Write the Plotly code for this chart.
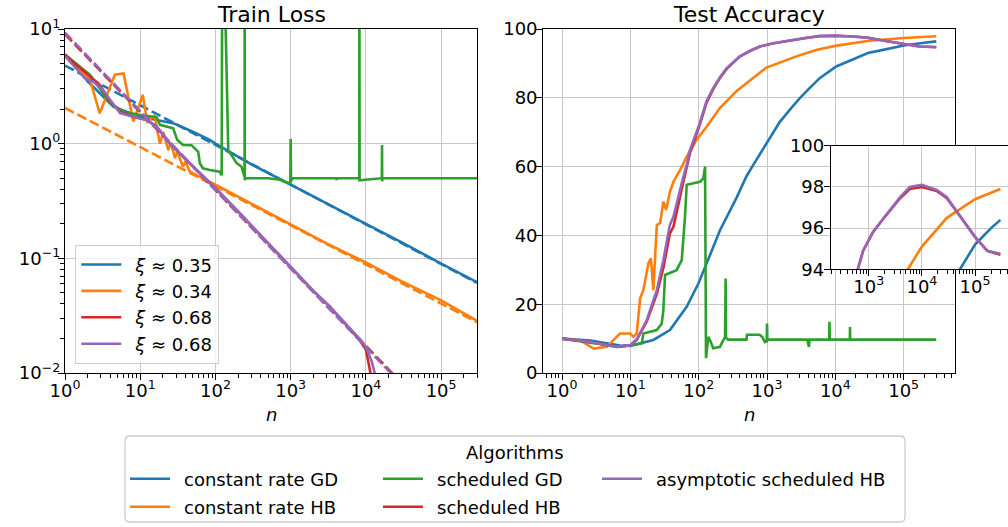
import plotly.graph_objects as go

# ---------------- data ----------------
# Train loss, solid curves
n_loss_const_gd = [1, 1.5, 2, 3.2, 4.4, 6.6, 10, 16.5, 27.4, 50, 84, 100, 300, 1000, 3000, 1e4, 3e4, 1e5, 3e5]
loss_const_gd = [5.9, 4.5, 3.5, 2.57, 2.1, 1.9, 1.72, 1.61, 1.51, 1.27, 1.08, 1.0, 0.66, 0.44, 0.30, 0.2, 0.138, 0.09, 0.062]

n_loss_const_hb = [1, 1.5, 2.15, 2.9, 4.6, 6.0, 8.1, 10.8, 12.4, 15.5, 18.3, 20.2, 23.6, 25.5, 28.9, 31, 37, 40, 45,
                   50.5, 72, 100, 300, 1000, 3000, 1e4, 3e4, 1e5, 3e5]
loss_const_hb = [6.0, 4.6, 3.6, 1.84, 4.0, 4.1, 1.56, 2.66, 1.56, 1.75, 1.0, 1.27, 0.88, 1.02, 0.75, 0.85, 0.63, 0.7, 0.58,
                 0.55, 0.49, 0.44, 0.30, 0.197, 0.135, 0.092, 0.063, 0.043, 0.0285]

n_loss_sched_gd = [1, 2.15, 4.0, 5.95, 10, 16.5, 18.3, 27.4, 31, 37, 48, 53, 59, 62, 68, 84, 114, 121, 123, 132, 148, 190,
                   222, 240, 244, 245, 246, 250, 500, 720, 915, 990, 1000, 1012, 1050, 4000, 4096, 4200, 8150, 8192, 8250,
                   16300, 16384, 16450, 16600, 3e5]
loss_sched_gd = [6.0, 3.98, 2.25, 1.9, 1.78, 1.70, 1.46, 1.36, 1.08, 0.975, 0.97, 0.91, 0.85, 0.675, 0.61, 0.59, 0.57, 0.53,
                 30, 30, 0.88, 0.68, 0.63, 0.53, 0.51, 30, 0.48, 0.50, 0.50, 0.485, 0.455, 0.455, 1.1, 0.47, 0.50, 0.50,
                 0.485, 0.50, 0.50, 30, 0.48, 0.50, 0.975, 0.47, 0.50, 0.50]

n_loss_sched_hb = [1, 1.17, 1.94, 2.9, 4.0, 5.4, 8.1, 12.2, 16.5, 24.8, 41, 72, 100, 200, 1000, 2000, 3300, 6000, 8200,
                   1e4, 1.15e4, 1.3e4]
loss_sched_hb = [6.0, 5.4, 4.1, 3.25, 2.32, 1.9, 1.72, 1.61, 1.41, 1.0, 0.72, 0.50, 0.41, 0.256, 0.085, 0.052, 0.038,
                 0.0245, 0.0195, 0.016, 0.01, 0.005]

n_loss_asym_hb = [1, 1.85, 2.38, 3.2, 4.0, 5.4, 8.1, 12.2, 16.5, 24.8, 41, 72, 100, 200, 1000, 2000, 3300, 6000, 8200,
                  1e4, 1.2e4, 1.31e4, 1.45e4]
loss_asym_hb = [5.8, 3.7, 3.47, 2.94, 2.4, 1.85, 1.72, 1.61, 1.41, 1.0, 0.72, 0.50, 0.41, 0.256, 0.084, 0.052, 0.038,
                0.025, 0.02, 0.017, 0.0125, 0.01, 0.007]

# Train loss, dashed power-law fits (end points)
n_fit_const_gd = [1, 3e5]
fit_const_gd = [4.8, 0.061]
n_fit_const_hb = [1, 3e5]
fit_const_hb = [2.05, 0.0277]
n_fit_sched_hb = [1, 2.4e4]
fit_sched_hb = [9.0, 0.0095]
n_fit_asym_hb = [1, 2.2e4]
fit_asym_hb = [9.3, 0.0098]

# Test accuracy
n_acc_const_gd = [1, 2.6, 7.1, 10, 21.7, 38, 67, 99, 131, 205, 359, 501, 630, 980, 1540, 2150, 3020, 4200, 5900, 1.03e4,
                  1.8e4, 3e4, 5.2e4, 1e5, 2e5, 3e5]
acc_const_gd = [10.0, 9.4, 8.0, 7.9, 9.6, 12.5, 19.3, 26, 31.9, 41.5, 51, 57.2, 60.5, 66.8, 73, 76.5, 79.9, 82.8, 85.7,
                89.1, 91.2, 93.0, 94.0, 95.2, 96.0, 96.4]

n_acc_const_hb = [1, 1.85, 2.9, 4.5, 6.3, 7.1, 9.9, 11.1, 12.4, 13.9, 15.5, 18.4, 20, 21.7, 24.4, 27.3, 30.4, 33.3, 38,
                  42.7, 53.3, 66.8, 93, 130, 204, 360, 980, 3020, 5430, 1e4, 2.95e4, 1e5, 3e5]
acc_const_hb = [10, 9.5, 7.1, 7.6, 10.5, 11.5, 11.5, 10.5, 11.5, 21.7, 24.1, 31.9, 33.3, 24.1, 43, 43.6, 49.8, 47.4, 52.7,
                55.6, 59, 62.9, 67.8, 71.5, 77, 82, 88.8, 92.4, 94.0, 95.1, 96.5, 97.4, 97.9]

n_acc_sched_gd = [1, 7.1, 14.7, 15.5, 24.4, 28.8, 30.4, 32.2, 47.5, 56.5, 63, 66.8, 105, 117, 124, 128, 138, 150, 163,
                  205, 228, 243, 248, 251, 270, 500, 510, 780, 850, 930, 990, 1000, 1012, 3900, 4000, 4096, 4200, 8100,
                  8192, 8300, 16300, 16384, 16500, 3e5]
acc_sched_gd = [10, 7.6, 8.6, 11.5, 12.5, 14.4, 18.3, 28.5, 29.9, 32.8, 45.4, 54.7, 55.6, 56.6, 60, 4.3, 10.5, 9.1, 7.2,
                7.6, 9.5, 10.3, 27.5, 10.3, 9.7, 9.7, 11.1, 11.1, 10.5, 9.0, 9.2, 14.4, 9.7, 9.7, 7.6, 7.6, 9.7, 9.7,
                14.9, 9.7, 9.7, 13.4, 9.7, 9.7]

n_acc_sched_hb = [1, 2.6, 6.3, 10, 12.4, 17.4, 24.4, 30.4, 37.8, 42.7, 59.6, 66.8, 74.7, 105, 130, 163, 205, 257, 398, 560,
                  785, 1200, 1930, 3900, 5900, 1e4, 1.9e4, 2.95e4, 5.5e4, 9.8e4, 1.7e5, 3e5]
acc_sched_hb = [10, 9.0, 7.6, 8.1, 9.6, 15.0, 23.0, 30.5, 40.5, 42.5, 55.5, 59.5, 64, 72.5, 78.5, 82.5, 85.8, 88.4, 92,
                93.6, 94.9, 95.8, 96.5, 97.45, 97.9, 98.0, 97.8, 97.45, 96.5, 95.6, 94.9, 94.7]

n_acc_asym_hb = [1, 2.6, 6.3, 10, 12.4, 17.4, 24.4, 30.4, 37.8, 42.7, 59.6, 66.8, 74.7, 105, 130, 163, 205, 257, 398, 560,
                 785, 1200, 1930, 3900, 5900, 1e4, 1.9e4, 2.95e4, 5.5e4, 9.8e4, 1.7e5, 3e5]
acc_asym_hb = [10, 9.0, 7.6, 8.1, 9.8, 15.4, 24.1, 32.8, 43, 45.4, 57, 60.5, 64.8, 73, 79, 82.8, 86, 88.6, 92, 93.6,
               94.9, 95.8, 96.5, 97.5, 98.0, 98.1, 97.85, 97.5, 96.5, 95.6, 94.9, 94.75]

# Tick labels
loss_x_tickvals = [1, 10, 100, 1e3, 1e4, 1e5]
loss_x_ticktext = ["10<sup>0</sup>", "10<sup>1</sup>", "10<sup>2</sup>", "10<sup>3</sup>", "10<sup>4</sup>", "10<sup>5</sup>"]
loss_y_tickvals = [0.01, 0.1, 1, 10]
loss_y_ticktext = ["10<sup>−2</sup>", "10<sup>−1</sup>", "10<sup>0</sup>", "10<sup>1</sup>"]
acc_y_tickvals = [0, 20, 40, 60, 80, 100]
inset_x_tickvals = [1e3, 1e4, 1e5]
inset_x_ticktext = ["10<sup>3</sup>", "10<sup>4</sup>", "10<sup>5</sup>"]
inset_y_tickvals = [94, 96, 98, 100]

xi_labels = ["<i>ξ</i> ≈ 0.35", "<i>ξ</i> ≈ 0.34", "<i>ξ</i> ≈ 0.68", "<i>ξ</i> ≈ 0.68"]
algo_labels = ["constant rate GD", "constant rate HB", "scheduled GD", "scheduled HB", "asymptotic scheduled HB"]

# ---------------- layout helpers ----------------
W, H = 1008, 527
def X(px):
    return px / W
def Y(py):
    return 1 - py / H

FONT = "DejaVu Sans"
BLUE, ORANGE, GREEN, RED, PURPLE = "#1f77b4", "#ff7f0e", "#2ca02c", "#d62728", "#9467bd"
LW = 2.6
DASH = "10px,4px"
GRID = "#c8c8c8"
GAP = "\u2002"  # small gap between legend handle and label

fig = go.Figure()

def line(x, y, color, xa, ya, dash=None, name=None, legend=None, show=False):
    kw = dict(x=x, y=y, mode="lines", line=dict(color=color, width=LW, dash=dash),
              xaxis=xa, yaxis=ya, showlegend=show, hoverinfo="skip")
    if name is not None:
        kw["name"] = GAP + name
    if legend is not None:
        kw["legend"] = legend
    fig.add_trace(go.Scatter(**kw))

# Train loss
line(n_loss_const_gd, loss_const_gd, BLUE, "x", "y", name=xi_labels[0], legend="legend2", show=True)
line(n_fit_const_gd, fit_const_gd, BLUE, "x", "y", dash=DASH)
line(n_loss_const_hb, loss_const_hb, ORANGE, "x", "y", name=xi_labels[1], legend="legend2", show=True)
line(n_fit_const_hb, fit_const_hb, ORANGE, "x", "y", dash=DASH)
line(n_loss_sched_gd, loss_sched_gd, GREEN, "x", "y")
line(n_loss_sched_hb, loss_sched_hb, RED, "x", "y", name=xi_labels[2], legend="legend2", show=True)
line(n_fit_sched_hb, fit_sched_hb, RED, "x", "y", dash=DASH)
line(n_loss_asym_hb, loss_asym_hb, PURPLE, "x", "y", name=xi_labels[3], legend="legend2", show=True)
line(n_fit_asym_hb, fit_asym_hb, PURPLE, "x", "y", dash=DASH)

# Test accuracy (main)
line(n_acc_const_gd, acc_const_gd, BLUE, "x2", "y2", name=algo_labels[0], legend="legend", show=True)
line(n_acc_const_hb, acc_const_hb, ORANGE, "x2", "y2", name=algo_labels[1], legend="legend5", show=True)
line(n_acc_sched_gd, acc_sched_gd, GREEN, "x2", "y2", name=algo_labels[2], legend="legend3", show=True)
line(n_acc_sched_hb, acc_sched_hb, RED, "x2", "y2", name=algo_labels[3], legend="legend6", show=True)
line(n_acc_asym_hb, acc_asym_hb, PURPLE, "x2", "y2", name=algo_labels[4], legend="legend4", show=True)

# Test accuracy (inset)
line(n_acc_const_gd, acc_const_gd, BLUE, "x3", "y3")
line(n_acc_const_hb, acc_const_hb, ORANGE, "x3", "y3")
line(n_acc_sched_gd, acc_sched_gd, GREEN, "x3", "y3")
line(n_acc_sched_hb, acc_sched_hb, RED, "x3", "y3")
line(n_acc_asym_hb, acc_asym_hb, PURPLE, "x3", "y3")

tickfont = dict(family=FONT, size=18, color="black")
minor_log = dict(ticks="outside", ticklen=3.5, tickwidth=1, tickcolor="black", showgrid=False, dtick="D1")

def ax(**kw):
    d = dict(showline=True, linecolor="black", linewidth=1.3, ticks="outside", ticklen=6, tickwidth=1.2,
             tickcolor="black", showgrid=True, gridcolor=GRID, gridwidth=1.3, zeroline=False,
             tickfont=tickfont, fixedrange=True)
    d.update(kw)
    return d

def legend_single(px, py):
    return dict(x=X(px), y=Y(py), xanchor="left", yanchor="middle", bgcolor="rgba(0,0,0,0)", borderwidth=0,
                font=dict(family=FONT, size=18, color="black"), itemwidth=40, orientation="v")

box_l, box_r, box_t, box_b, rad = 125, 905, 436, 522, 5
def P(px, py):
    return f"{X(px):.5f},{Y(py):.5f}"

XSO, YSO = -5, -6  # tick label standoffs

fig.update_layout(
    width=W, height=H,
    margin=dict(l=0, r=0, t=0, b=0),
    template="none",
    paper_bgcolor="white", plot_bgcolor="white",
    font=dict(family=FONT, size=18, color="black"),
    xaxis=ax(domain=[X(65), X(477)], type="log", range=[0, 5.477], anchor="y", mirror=True, ticklabelstandoff=XSO,
             tickmode="array", tickvals=loss_x_tickvals, ticktext=loss_x_ticktext, minor=minor_log),
    yaxis=ax(domain=[Y(373), Y(29)], type="log", range=[-2, 1], anchor="x", mirror=True, ticklabelstandoff=YSO,
             tickmode="array", tickvals=loss_y_tickvals, ticktext=loss_y_ticktext, minor=minor_log),
    xaxis2=ax(domain=[X(543.3), X(955)], type="log", range=[-0.274, 5.751], anchor="y2", mirror=True,
              ticklabelstandoff=XSO,
              tickmode="array", tickvals=loss_x_tickvals, ticktext=loss_x_ticktext, minor=minor_log),
    yaxis2=ax(domain=[Y(373), Y(29)], range=[0, 100], anchor="x2", mirror=True, ticklabelstandoff=YSO + 1,
              tickmode="array", tickvals=acc_y_tickvals),
    xaxis3=ax(domain=[X(831), 1.0], type="log", range=[2.29, 5.62], anchor="y3", mirror=True,
              ticklabelstandoff=XSO,
              tickmode="array", tickvals=inset_x_tickvals, ticktext=inset_x_ticktext, minor=minor_log),
    yaxis3=ax(domain=[Y(269.3), Y(145.7)], range=[94, 100], anchor="x3", mirror=False, ticklabelstandoff=YSO + 2,
              tickmode="array", tickvals=inset_y_tickvals),
    legend=legend_single(125, 479),
    legend3=legend_single(378, 479),
    legend4=legend_single(597, 479),
    legend5=legend_single(125, 507),
    legend6=legend_single(378, 507),
    legend2=dict(x=X(75), y=Y(245), xanchor="left", yanchor="top", bgcolor="rgba(255,255,255,0.8)",
                 bordercolor="#cccccc", borderwidth=1.3, font=dict(family=FONT, size=18, color="black"),
                 itemwidth=40, orientation="v", tracegroupgap=0),
    annotations=[
        dict(text="Train Loss", x=X(271), y=Y(14), xref="paper", yref="paper", showarrow=False,
             xanchor="center", yanchor="middle", font=dict(family=FONT, size=22, color="black")),
        dict(text="Test Accuracy", x=X(749), y=Y(14), xref="paper", yref="paper", showarrow=False,
             xanchor="center", yanchor="middle", font=dict(family=FONT, size=22, color="black")),
        dict(text="<i>n</i>", x=X(271), y=Y(414), xref="paper", yref="paper", showarrow=False,
             xanchor="center", yanchor="middle", font=dict(family=FONT, size=18, color="black")),
        dict(text="<i>n</i>", x=X(749), y=Y(414), xref="paper", yref="paper", showarrow=False,
             xanchor="center", yanchor="middle", font=dict(family=FONT, size=18, color="black")),
        dict(text="Algorithms", x=X(515), y=Y(452), xref="paper", yref="paper", showarrow=False,
             xanchor="center", yanchor="middle", font=dict(family=FONT, size=18, color="black")),
    ],
    shapes=[
        dict(type="path", xref="paper", yref="paper", layer="below",
             path=(f"M{P(box_l + rad, box_t)} L{P(box_r - rad, box_t)} Q{P(box_r, box_t)} {P(box_r, box_t + rad)} "
                   f"L{P(box_r, box_b - rad)} Q{P(box_r, box_b)} {P(box_r - rad, box_b)} "
                   f"L{P(box_l + rad, box_b)} Q{P(box_l, box_b)} {P(box_l, box_b - rad)} "
                   f"L{P(box_l, box_t + rad)} Q{P(box_l, box_t)} {P(box_l + rad, box_t)} Z"),
             line=dict(color="#cccccc", width=1.3), fillcolor="white"),
    ],
)

fig.write_html("out.html", config={"displayModeBar": False},
               post_script="document.body.style.margin='0';document.body.style.overflow='hidden';")
